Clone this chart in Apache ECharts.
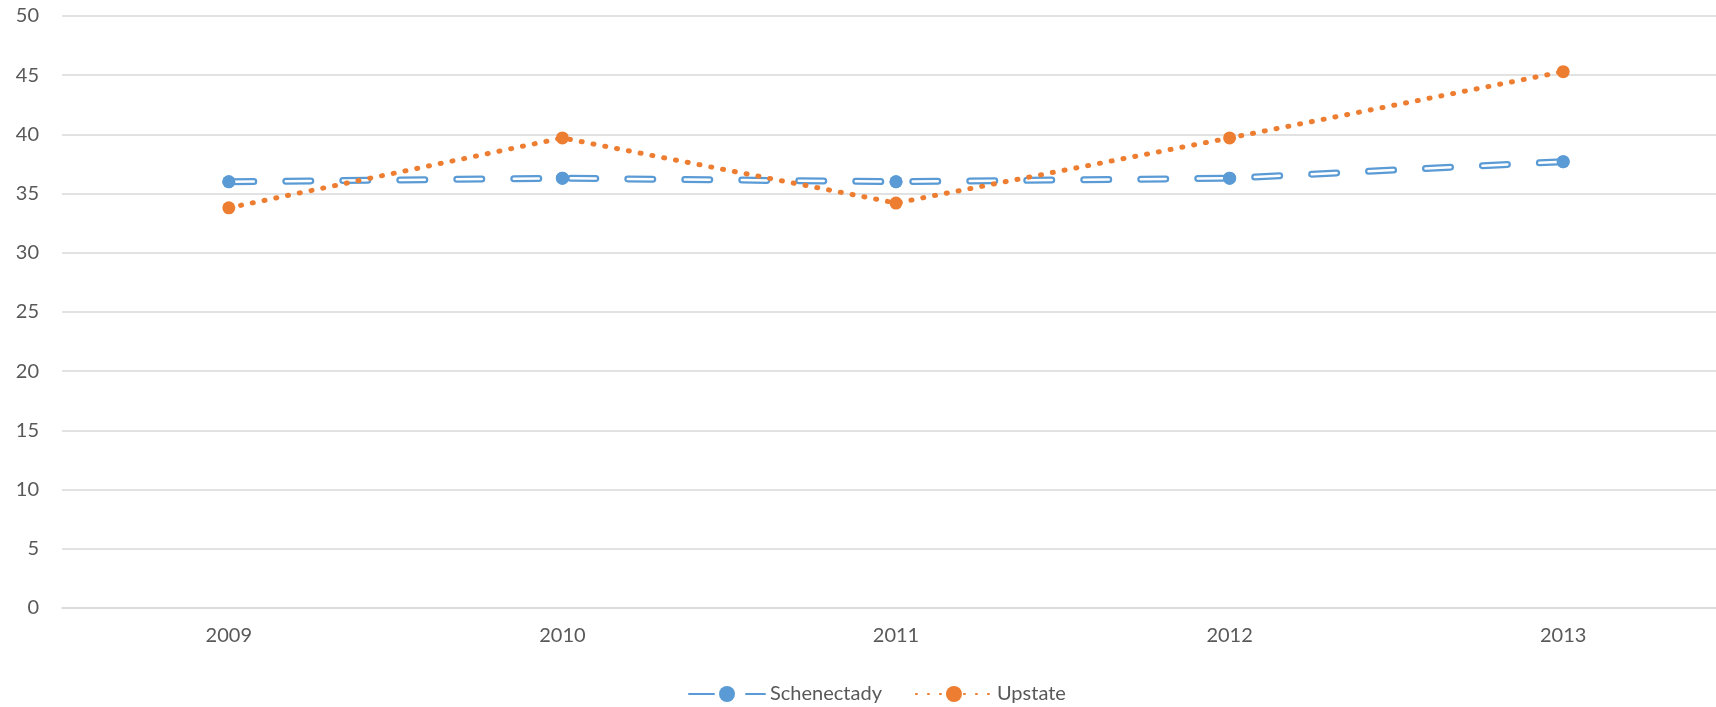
<!DOCTYPE html>
<html>
<head>
<meta charset="utf-8">
<script src="https://cdn.jsdelivr.net/npm/echarts@6/dist/echarts.min.js"></script>
<style>
  html, body { margin: 0; padding: 0; background: #fff; }
  #chart { width: 1716px; height: 707px; }
</style>
</head>
<body>
<div id="chart"></div>
<script>
const years = ['2009', '2010', '2011', '2012', '2013'];
const schenectady = [36.0, 36.3, 36.0, 36.3, 37.7];
const upstate = [33.8, 39.7, 34.2, 39.7, 45.3];

const BLUE = '#5B9BD5';
const ORANGE = '#ED7D31';
const TEXT = '#595959';
const FONT = 'Lato';

let chart = echarts.init(document.getElementById('chart'));

let option = {
  animation: false,
  grid: {
    // plot area runs past the right edge of the picture
    left: 62,
    width: 1668,
    top: 16,
    bottom: 99,
    outerBoundsMode: 'none'
  },
  legend: {
    data: ['Schenectady', 'Upstate'],
    left: 683,
    top: 679,
    itemWidth: 76,
    itemHeight: 20,
    itemGap: 33,
    textStyle: { color: TEXT, fontSize: 20, fontFamily: FONT }
  },
  xAxis: {
    type: 'category',
    data: years,
    boundaryGap: true,
    axisLine: { lineStyle: { color: '#d9d9d9', width: 1.5 } },
    axisTick: { show: false },
    axisLabel: { color: TEXT, fontSize: 20, fontFamily: FONT, margin: 18 }
  },
  yAxis: {
    type: 'value',
    min: 0,
    max: 50,
    interval: 5,
    axisLine: { show: false },
    axisTick: { show: false },
    axisLabel: { color: TEXT, fontSize: 20, fontFamily: FONT, margin: 23 },
    splitLine: { lineStyle: { color: '#d9d9d9', width: 1.5 } }
  },
  series: [
    {
      // outer blue stroke of the double dash
      name: 'Schenectady',
      type: 'line',
      data: schenectady,
      symbol: 'circle',
      symbolSize: 13,
      itemStyle: { color: BLUE },
      lineStyle: { color: BLUE, width: 7, type: [25, 32], cap: 'round' },
      z: 2
    },
    {
      // white inner stroke, markers redrawn on top
      name: 'Schenectady-inner',
      type: 'line',
      data: schenectady,
      symbol: 'circle',
      symbolSize: 13,
      itemStyle: { color: BLUE },
      lineStyle: { color: '#ffffff', width: 2.5, type: [25, 32], cap: 'round' },
      z: 2
    },
    {
      name: 'Upstate',
      type: 'line',
      data: upstate,
      symbol: 'circle',
      symbolSize: 13,
      itemStyle: { color: ORANGE },
      lineStyle: { color: ORANGE, width: 5, type: [1, 11], cap: 'round' },
      z: 3
    }
  ]
};

chart.setOption(option);
</script>
</body>
</html>
